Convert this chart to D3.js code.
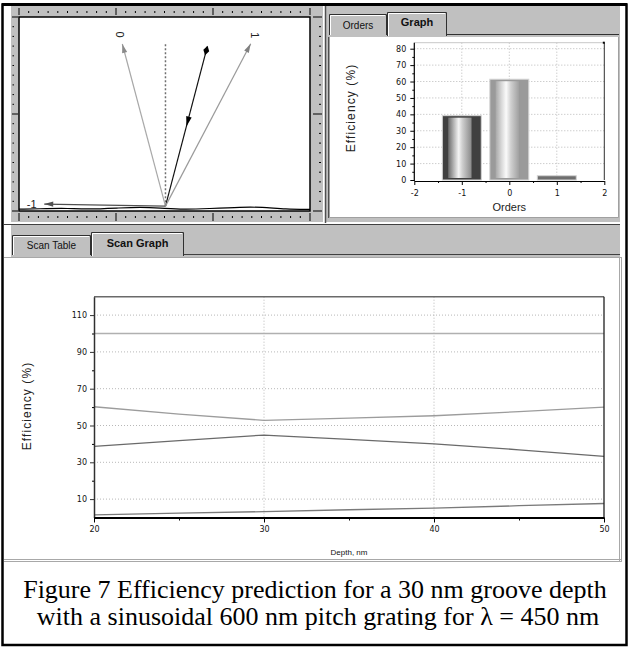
<!DOCTYPE html>
<html>
<head>
<meta charset="utf-8">
<script src="https://cdn.jsdelivr.net/npm/d3@7"></script>
<style>
  body { margin: 0; background: #fff; }
  svg { display: block; font-family: "Liberation Sans", Arial, sans-serif; }
</style>
</head>
<body>
<svg id="fig" width="629" height="648"></svg>
<script>
// scan graph data (depth in nm, efficiency in %)
const depths   = [20, 25, 30, 35, 40, 45, 50];
const orderM1  = [38.6, 41.8, 44.8, 42.5, 40.0, 36.8, 33.2];
const order0   = [60.2, 56.2, 52.8, 54.0, 55.3, 57.5, 60.0];
const order1   = [1.4, 2.4, 3.2, 4.2, 5.1, 6.4, 7.6];
const total    = [100, 100, 100, 100, 100, 100, 100];
const scanYTicks = [10, 30, 50, 70, 90, 110];
const scanYMinor = [20, 40, 60, 80, 100];
const scanXTicks = [20, 30, 40, 50];
const scanXMinor = [25, 35, 45];

// orders bar graph
const orders = [-1, 0, 1];
const efficiency = [39.2, 61.4, 2.6];
const barYTicks = [0, 10, 20, 30, 40, 50, 60, 70, 80];
const barYMinor = [5, 15, 25, 35, 45, 55, 65, 75];
const barXTicks = [-2, -1, 0, 1, 2];
const barXMinor = [-1.5, -0.5, 0.5, 1.5];

// ray diagram (angles from the grating normal, lengths in ruler units)
const rayNames   = ["in", "0", "1", "-1"];
const rayAngles  = [14.7, -14.9, 27.7, -89];
const rayLengths = [1.70, 1.73, 1.89, 1.25];
const normalLength = 1.69;
const gratingX = [0, 0.3, 0.5, 0.7, 1.05, 1.25, 1.45, 1.7, 1.95, 2.3, 2.5, 2.75, 3.0];
const gratingY = [0.008, 0.015, 0.018, 0.006, 0.022, 0.03, 0.022, 0.004, 0.015, 0.03, 0.03, 0.008, 0.006];

const GRAY = "#c0c0c0";
const svg = d3.select("#fig");

// ---------- window chrome ----------
svg.append("rect").attr("x", 2.5).attr("y", 4.5).attr("width", 624).attr("height", 640.5)
  .attr("fill", "#fff").attr("stroke", "#000").attr("stroke-width", 2.5);

svg.append("rect").attr("x", 11).attr("y", 6).attr("width", 312).attr("height", 216).attr("fill", GRAY);
svg.append("rect").attr("x", 326).attr("y", 6).attr("width", 294).attr("height", 216).attr("fill", GRAY);
svg.append("line").attr("x1", 325.5).attr("x2", 325.5).attr("y1", 6).attr("y2", 223)
  .attr("stroke", "#505050").attr("stroke-width", 1.5);
svg.append("line").attr("x1", 2).attr("x2", 627).attr("y1", 4.5).attr("y2", 4.5)
  .attr("stroke", "#000").attr("stroke-width", 3);

// lower tab strip + white panel
svg.append("rect").attr("x", 11).attr("y", 224).attr("width", 609).attr("height", 33).attr("fill", GRAY);
svg.append("line").attr("x1", 4).attr("x2", 620).attr("y1", 224.5).attr("y2", 224.5).attr("stroke", "#404040");
svg.append("line").attr("x1", 184).attr("x2", 620).attr("y1", 254.5).attr("y2", 254.5).attr("stroke", "#404040");
svg.append("rect").attr("x", 4).attr("y", 257).attr("width", 615).attr("height", 302).attr("fill", "#fff");
svg.append("line").attr("x1", 4).attr("x2", 621).attr("y1", 257.5).attr("y2", 257.5).attr("stroke", "#a8a8a8");
[619.5, 621.5].forEach(x => svg.append("line").attr("x1", x).attr("x2", x).attr("y1", 257).attr("y2", 562)
  .attr("stroke", "#a8a8a8"));
[559.5, 561.5].forEach(y => svg.append("line").attr("x1", 4).attr("x2", 622).attr("y1", y).attr("y2", y)
  .attr("stroke", "#a8a8a8"));

function tab(x, y, w, h, label, bold, size, ty) {
  const g = svg.append("g");
  g.append("rect").attr("x", x).attr("y", y).attr("width", w).attr("height", h).attr("fill", GRAY);
  g.append("path").attr("d", `M${x + 0.5},${y + h} V${y + 0.5} H${x + w - 0.5} V${y + h}`)
    .attr("fill", "none").attr("stroke", "#303030");
  g.append("path").attr("d", `M${x + 1.5},${y + h} V${y + 1.5} H${x + w - 2}`)
    .attr("fill", "none").attr("stroke", "#fff");
  g.append("text").attr("x", x + w / 2).attr("y", ty).attr("text-anchor", "middle")
    .attr("font-size", size).attr("font-weight", bold ? "bold" : "normal").attr("fill", "#111")
    .text(label);
}
tab(12, 235, 79, 20, "Scan Table", false, 10, 249);
tab(91, 232, 93, 24, "Scan Graph", true, 11, 246.5);

// top-right tabs and white area
tab(329, 14, 58, 21, "Orders", false, 10, 29);
tab(387, 12, 60, 24, "Graph", true, 11, 26);
svg.append("line").attr("x1", 447).attr("x2", 619).attr("y1", 34.5).attr("y2", 34.5).attr("stroke", "#303030");
svg.append("rect").attr("x", 329).attr("y", 37).attr("width", 289).attr("height", 180).attr("fill", "#fff");
svg.append("path").attr("d", "M329.5,37 V217.5 H618.5 V37").attr("fill", "none").attr("stroke", "#a0a0a0");
svg.append("line").attr("x1", 328.5).attr("x2", 328.5).attr("y1", 37).attr("y2", 218).attr("stroke", "#505050");

// ---------- ray diagram ----------
const gx = d3.scaleLinear().domain([0, 3]).range([19, 310]);
const gy = d3.scaleLinear().domain([0, 2]).range([211, 17]);
const diag = svg.append("g");

// rulers
const minorX = d3.range(0, 3.001, 0.1), minorY = d3.range(0, 2.001, 0.1);
minorX.forEach((u, i) => {
  const major = i % 10 === 0;
  diag.append("line").attr("x1", gx(u)).attr("x2", gx(u))
    .attr("y1", major ? 8 : 11).attr("y2", major ? 15 : 13).attr("stroke", "#000");
  diag.append("line").attr("x1", gx(u)).attr("x2", gx(u))
    .attr("y1", major ? 213 : 216).attr("y2", major ? 221 : 218).attr("stroke", "#000");
});
minorY.forEach((u, i) => {
  const major = i % 10 === 0;
  diag.append("line").attr("y1", gy(u)).attr("y2", gy(u))
    .attr("x1", major ? 12 : 12.5).attr("x2", major ? 18 : 14).attr("stroke", "#000");
  diag.append("line").attr("y1", gy(u)).attr("y2", gy(u))
    .attr("x1", major ? 313 : 319).attr("x2", major ? 322 : 321).attr("stroke", "#000");
});
diag.append("rect").attr("x", gx(0)).attr("y", gy(2)).attr("width", gx(3) - gx(0)).attr("height", gy(0) - gy(2))
  .attr("fill", "#fff").attr("stroke", "#000").attr("stroke-width", 1.5);

const vx = gx(1.51), vy = gy(0.05);
function tip(angle, len) {
  const a = angle * Math.PI / 180;
  return [vx + (gx(len * Math.sin(a)) - gx(0)), vy - (gy(0) - gy(len * Math.cos(a)))];
}
function head(x, y, ux, uy, len, wid, color) {
  const bx = x - ux * len, by = y - uy * len;
  diag.append("path")
    .attr("d", `M${x},${y} L${bx - uy * wid},${by + ux * wid} L${bx + uy * wid},${by - ux * wid} Z`)
    .attr("fill", color);
}

// grating profile
diag.append("path")
  .attr("d", d3.line().curve(d3.curveBasis)(gratingX.map((u, i) => [gx(u), gy(gratingY[i]) - 1])))
  .attr("fill", "none").attr("stroke", "#000").attr("stroke-width", 1.2);

// normal
const nt = tip(0, normalLength);
diag.append("line").attr("x1", vx).attr("y1", vy).attr("x2", nt[0]).attr("y2", nt[1])
  .attr("stroke", "#707070").attr("stroke-width", 1.5).attr("stroke-dasharray", "2,2");

const rayColors = ["#111", "#a8a8a8", "#9a9a9a", "#505050"];
const headColors = ["#000", "#8a8a8a", "#808080", "#505050"];
rayNames.forEach((name, i) => {
  const [tx, ty] = tip(rayAngles[i], rayLengths[i]);
  const L = Math.hypot(tx - vx, ty - vy), ux = (tx - vx) / L, uy = (ty - vy) / L;
  diag.append("line").attr("x1", vx).attr("y1", vy).attr("x2", tx).attr("y2", ty)
    .attr("stroke", rayColors[i]).attr("stroke-width", 1.2);
  if (name === "in") {
    // diamond tail at the top and arrow at mid-ray, pointing down
    const mx = tx - ux * 4, my = ty - uy * 4;
    diag.append("path")
      .attr("d", `M${mx + ux * 5},${my + uy * 5} L${mx - uy * 3},${my + ux * 3} L${mx - ux * 5},${my - uy * 5} L${mx + uy * 3},${my - ux * 3} Z`)
      .attr("fill", "#000");
    const hx = tx - ux * L * 0.5, hy = ty - uy * L * 0.5;
    head(hx, hy, -ux, -uy, 10, 2.8, "#000");
  } else {
    head(tx, ty, ux, uy, 9, 2.6, headColors[i]);
    const [lx, ly] = tip(rayAngles[i], rayLengths[i] + (name === "-1" ? 0.13 : 0.1));
    const t = diag.append("text").attr("font-size", 11).attr("fill", "#222")
      .attr("text-anchor", "middle").attr("dy", "0.35em").text(name);
    if (name === "-1") t.attr("x", lx).attr("y", ly);
    else t.attr("transform", `translate(${lx},${ly}) rotate(90)`);
  }
});

// ---------- orders bar graph ----------
const bx = d3.scaleLinear().domain([-2, 2]).range([414.3, 604.3]);
const by = d3.scaleLinear().domain([0, 80]).range([180, 48.7]);
const bar = svg.append("g");
const bTop = 42.7;
const defs = svg.append("defs");
function cyl(id, stops) {
  const gr = defs.append("linearGradient").attr("id", id).attr("x1", 0).attr("x2", 1).attr("y1", 0).attr("y2", 0);
  stops.forEach(s => gr.append("stop").attr("offset", s[0]).attr("stop-color", s[1]));
}
cyl("cylA", [[0, "#6a6a6a"], [0.25, "#b8b8b8"], [0.45, "#f4f4f4"], [0.6, "#d0d0d0"], [1, "#8a8a8a"]]);
cyl("cylB", [[0, "#a8a8a8"], [0.25, "#d8d8d8"], [0.45, "#fafafa"], [0.65, "#d0d0d0"], [1, "#a0a0a0"]]);

bar.selectAll(".bg").data(barYTicks.slice(1)).join("line")
  .attr("x1", bx(-2)).attr("x2", bx(2)).attr("y1", d => by(d)).attr("y2", d => by(d))
  .attr("stroke", "#b8b8b8").attr("stroke-dasharray", "1,2");
bar.selectAll(".bv").data(barXTicks.slice(1, -1)).join("line")
  .attr("x1", d => bx(d)).attr("x2", d => bx(d)).attr("y1", bTop).attr("y2", by(0))
  .attr("stroke", "#b8b8b8").attr("stroke-dasharray", "1,2");

const bw = (bx(1) - bx(0)) * 0.82;
const barFill = ["#404040", "#9a9a9a", "#6e6e6e"];
const innerFill = ["url(#cylA)", "url(#cylB)", null];
orders.forEach((o, i) => {
  const x0 = bx(o) - bw / 2, y0 = by(efficiency[i]);
  bar.append("rect").attr("x", x0).attr("y", y0).attr("width", bw).attr("height", by(0) - y0)
    .attr("fill", barFill[i]).attr("stroke", "#d4d4d4");
  if (innerFill[i]) {
    bar.append("rect").attr("x", x0 + bw * 0.15).attr("y", y0 + 2).attr("width", bw * 0.6)
      .attr("height", by(0) - y0 - 4).attr("fill", innerFill[i]);
  }
});

bar.append("line").attr("x1", bx(-2)).attr("x2", bx(2)).attr("y1", bTop).attr("y2", bTop).attr("stroke", "#c8c8c8");
bar.append("line").attr("x1", bx(2)).attr("x2", bx(2)).attr("y1", bTop).attr("y2", by(0)).attr("stroke", "#303030");
bar.append("rect").attr("x", bx(2) - 1.5).attr("y", bTop - 1).attr("width", 2).attr("height", 2).attr("fill", "#000");

function styleAxis(g, color, width) {
  g.select(".domain").attr("stroke", color).attr("stroke-width", width);
  g.selectAll(".tick line").attr("stroke", color);
  g.selectAll("text").attr("font-family", "'DejaVu Sans', sans-serif").attr("font-size", 8).attr("fill", "#111");
}
const plain = d => String(d);
const bya = bar.append("g").attr("transform", `translate(${bx(-2)},0)`)
  .call(d3.axisLeft(by).tickValues(barYTicks).tickFormat(plain).tickSize(4).tickPadding(4).tickSizeOuter(0));
bya.select(".domain").attr("d", `M0,${by(0) + 1}V${bTop}`);
styleAxis(bya, "#000", 1.2);
bar.append("g").attr("transform", `translate(${bx(-2)},0)`)
  .call(d3.axisLeft(by).tickValues(barYMinor).tickSize(2).tickFormat("")).call(g => g.select(".domain").remove());
const bxa = bar.append("g").attr("transform", `translate(0,${by(0) + 1})`)
  .call(d3.axisBottom(bx).tickValues(barXTicks).tickFormat(plain).tickSize(4).tickPadding(5).tickSizeOuter(0));
styleAxis(bxa, "#000", 1.2);
bar.append("g").attr("transform", `translate(0,${by(0) + 1})`)
  .call(d3.axisBottom(bx).tickValues(barXMinor).tickSize(2).tickFormat("")).call(g => g.select(".domain").remove());

bar.append("text").attr("transform", `translate(355,108) rotate(-90)`).attr("text-anchor", "middle")
  .attr("font-size", 12).attr("letter-spacing", 1.1).attr("fill", "#222").text("Efficiency (%)");
bar.append("text").attr("x", bx(0)).attr("y", 211).attr("text-anchor", "middle")
  .attr("font-size", 11).attr("fill", "#222").text("Orders");

// ---------- scan graph ----------
const sx = d3.scaleLinear().domain([20, 50]).range([94, 604]);
const sy = d3.scaleLinear().domain([0, 120]).range([517.5, 296.7]);
const scan = svg.append("g");

scan.selectAll(".hg").data(scanYTicks).join("line")
  .attr("x1", sx(20)).attr("x2", sx(50)).attr("y1", d => sy(d)).attr("y2", d => sy(d))
  .attr("stroke", "#b8b8b8").attr("stroke-dasharray", "1,2");
scan.selectAll(".vg").data(scanXTicks.slice(1, -1)).join("line")
  .attr("x1", d => sx(d)).attr("x2", d => sx(d)).attr("y1", sy(120)).attr("y2", sy(0))
  .attr("stroke", "#b8b8b8").attr("stroke-dasharray", "1,2");

const series = [
  { values: total,   color: "#b0b0b0" },
  { values: order0,  color: "#9c9c9c" },
  { values: orderM1, color: "#6a6a6a" },
  { values: order1,  color: "#7a7a7a" }
];
const line = d3.line().x(d => sx(d[0])).y(d => sy(d[1]));
series.forEach(s => {
  scan.append("path").attr("d", line(depths.map((d, i) => [d, s.values[i]])))
    .attr("fill", "none").attr("stroke", s.color).attr("stroke-width", 1.3);
});

scan.append("line").attr("x1", sx(20)).attr("x2", sx(50)).attr("y1", sy(120)).attr("y2", sy(120))
  .attr("stroke", "#6a6a6a").attr("stroke-width", 1.5);
scan.append("line").attr("x1", sx(50)).attr("x2", sx(50)).attr("y1", sy(120)).attr("y2", sy(0))
  .attr("stroke", "#202020").attr("stroke-width", 1.3);

const sya = scan.append("g").attr("transform", `translate(${sx(20)},0)`)
  .call(d3.axisLeft(sy).tickValues(scanYTicks).tickSize(4).tickPadding(3).tickSizeOuter(0));
styleAxis(sya, "#303030", 1.5);
scan.append("g").attr("transform", `translate(${sx(20)},0)`)
  .call(d3.axisLeft(sy).tickValues(scanYMinor).tickSize(2).tickFormat("")).call(g => g.select(".domain").remove());
const sxa = scan.append("g").attr("transform", `translate(0,${sy(0)})`)
  .call(d3.axisBottom(sx).tickValues(scanXTicks).tickSize(5).tickPadding(4).tickSizeOuter(0));
styleAxis(sxa, "#000", 2);
scan.append("g").attr("transform", `translate(0,${sy(0)})`)
  .call(d3.axisBottom(sx).tickValues(scanXMinor).tickSize(3).tickFormat("")).call(g => g.select(".domain").remove());

scan.append("text").attr("transform", `translate(31,406) rotate(-90)`).attr("text-anchor", "middle")
  .attr("font-size", 12).attr("letter-spacing", 1.1).attr("fill", "#222").text("Efficiency (%)");
scan.append("text").attr("x", (sx(20) + sx(50)) / 2).attr("y", 555).attr("text-anchor", "middle")
  .attr("font-size", 8).attr("fill", "#111").text("Depth, nm");

// ---------- caption ----------
const cap = svg.append("g").attr("font-family", "'Liberation Serif', 'Times New Roman', serif")
  .attr("font-size", 26).attr("fill", "#000").attr("text-anchor", "middle");
cap.append("text").attr("x", 315).attr("y", 598).text("Figure 7 Efficiency prediction for a 30 nm groove depth");
cap.append("text").attr("x", 318).attr("y", 624.5).text("with a sinusoidal 600 nm pitch grating for \u03bb = 450 nm");
</script>
</body>
</html>
